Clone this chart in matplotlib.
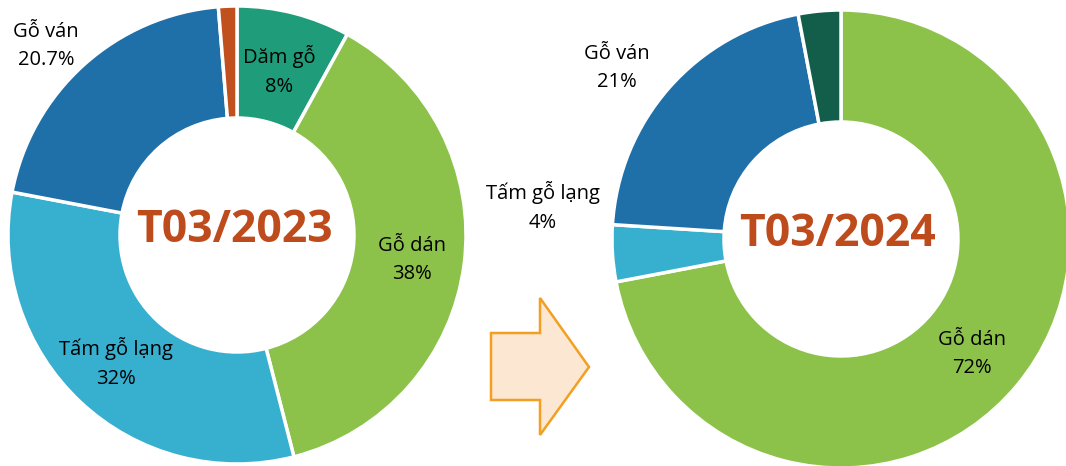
import matplotlib.pyplot as plt
from matplotlib.patches import Polygon

# data
labels_2023 = ["Dăm gỗ", "Gỗ dán", "Tấm gỗ lạng", "Gỗ ván", "Khác"]
values_2023 = [8, 38, 32, 20.7, 1.3]
labels_2024 = ["Gỗ dán", "Tấm gỗ lạng", "Gỗ ván", "Khác"]
values_2024 = [72, 4, 21, 3]
pct_text_2023 = ["8%", "38%", "32%", "20.7%", None]
pct_text_2024 = ["72%", "4%", "21%", None]

colors = {
    "Dăm gỗ": "#1F9C79",
    "Gỗ dán": "#8CC24A",
    "Tấm gỗ lạng": "#37AFCF",
    "Gỗ ván": "#1F6FA9",
}
other_2023 = "#C0501D"
other_2024 = "#135E4B"
title_color = "#BE4B1C"

# label positions in pixels (x, y from top)
label_pos_2023 = [(279, 71), (412, 260), (116, 363), (46, 46), None]
label_pos_2024 = [(972, 354), (543, 207), (617, 68), None]

W, H = 1066, 466
plt.rcParams["font.family"] = ["Open Sans", "DejaVu Sans"]

fig = plt.figure(figsize=(W / 100, H / 100), dpi=100)
ax = fig.add_axes([0, 0, 1, 1])


def donut(values, labels, other, center, title, label_pos, pct_text):
    cols = [colors.get(l, other) for l in labels]
    cx, cy = center
    ax.pie(values, colors=cols, startangle=90, counterclock=False,
           center=(cx, H - cy), radius=229,
           wedgeprops=dict(width=112, edgecolor="white", linewidth=2.5))
    ax.text(cx - 3, H - cy + 4, title, ha="center", va="center",
            fontsize=32, fontweight="bold", color=title_color)
    for lab, pos, pct in zip(labels, label_pos, pct_text):
        if pos is None:
            continue
        ax.text(pos[0], H - pos[1], f"{lab}\n{pct}", ha="center", va="center",
                fontsize=14.5, color="black", linespacing=1.55)


donut(values_2023, labels_2023, other_2023, (237, 235), "T03/2023",
      label_pos_2023, pct_text_2023)
donut(values_2024, labels_2024, other_2024, (841, 239), "T03/2024",
      label_pos_2024, pct_text_2024)

# arrow between the two charts
arrow_px = [(491, 333), (540, 333), (540, 298), (589, 367),
            (540, 435), (540, 400), (491, 400)]
ax.add_patch(Polygon([(x, H - y) for x, y in arrow_px], closed=True,
                     facecolor="#FCE8D2", edgecolor="#F29F22", linewidth=1.8))

ax.set_xlim(0, W)
ax.set_ylim(0, H)
ax.set_aspect("equal")
ax.axis("off")

fig.savefig("out.png", dpi=100)
